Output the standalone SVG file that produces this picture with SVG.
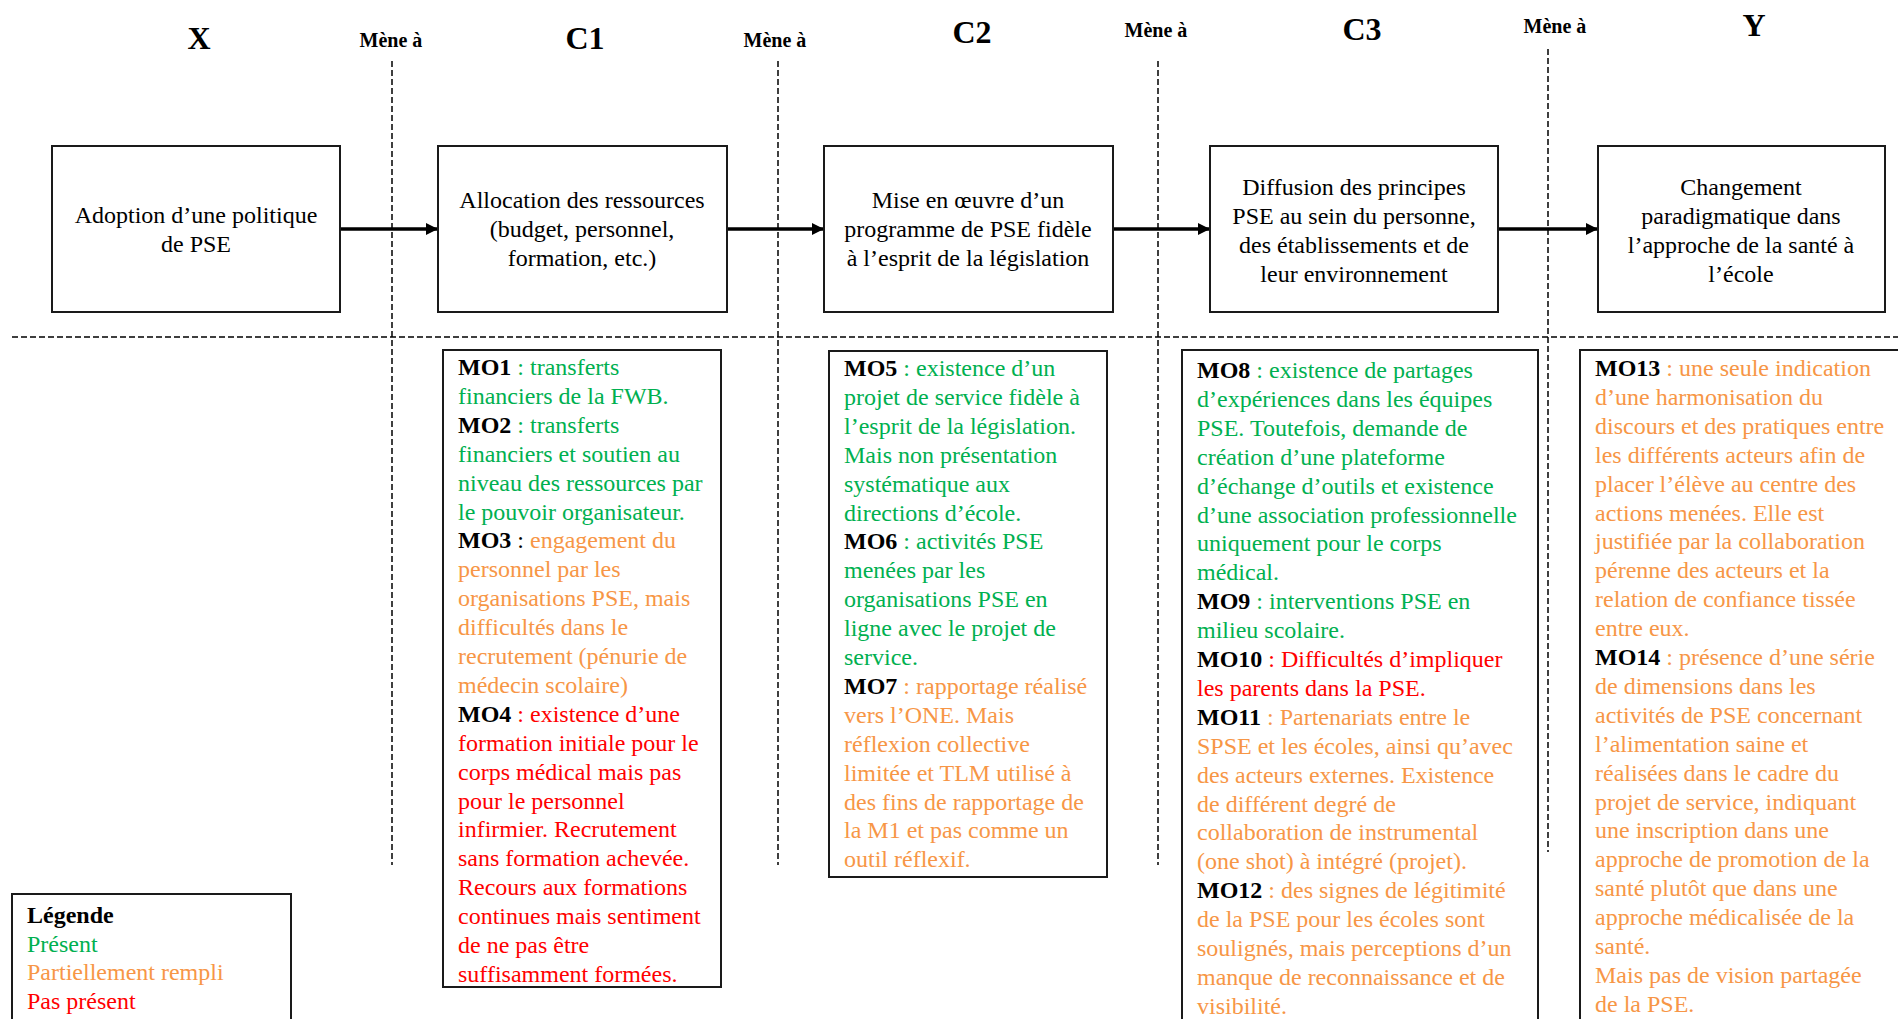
<svg xmlns="http://www.w3.org/2000/svg" width="1898" height="1019" viewBox="0 0 1898 1019">
<style>
.bg{fill:#fff}
.box{fill:#fff;stroke:#1a1a1a;stroke-width:2}
.t{font-family:"Liberation Serif","Times New Roman",serif;font-size:24px;fill:#000}
.c{text-anchor:middle}
.h{font-family:"Liberation Serif","Times New Roman",serif;font-weight:bold;fill:#000;text-anchor:middle}
.hl{font-size:32px}
.hm{font-size:20px}
.b{font-weight:bold;fill:#000}
.g{fill:#00b050}
.o{fill:#f79646}
.r{fill:#ff0000}
.dash{stroke:#000;stroke-width:1.5;stroke-dasharray:6 3;fill:none}
.arr{stroke:#000;stroke-width:3.5;fill:none;marker-end:url(#ah)}
</style>
<defs>
<marker id="ah" markerUnits="userSpaceOnUse" markerWidth="12" markerHeight="12" refX="12" refY="6" orient="auto">
<path d="M0,0 L12,6 L0,12 z" fill="#000"/>
</marker>
</defs>
<rect class="bg" x="0" y="0" width="1898" height="1019"/>

<g id="headers">
<text class="h hl" x="199" y="49">X</text>
<text class="h hm" x="391" y="47">Mène à</text>
<text class="h hl" x="585" y="49">C1</text>
<text class="h hm" x="775" y="47">Mène à</text>
<text class="h hl" x="972" y="43">C2</text>
<text class="h hm" x="1156" y="37">Mène à</text>
<text class="h hl" x="1362" y="40">C3</text>
<text class="h hm" x="1555" y="33">Mène à</text>
<text class="h hl" x="1754" y="36">Y</text>
</g>

<g id="connectors">
<line class="dash" x1="392" y1="61" x2="392" y2="865"/>
<line class="dash" x1="778" y1="61" x2="778" y2="865"/>
<line class="dash" x1="1158" y1="61" x2="1158" y2="865"/>
<line class="dash" x1="1548" y1="49" x2="1548" y2="852"/>
<line class="dash" x1="12" y1="337" x2="1898" y2="337"/>
<line class="arr" x1="340" y1="229" x2="438" y2="229"/>
<line class="arr" x1="727" y1="229" x2="824" y2="229"/>
<line class="arr" x1="1113" y1="229" x2="1210" y2="229"/>
<line class="arr" x1="1498" y1="229" x2="1598" y2="229"/>
</g>

<g id="node-x">
<rect class="box" x="52" y="146" width="288" height="166"/>
<text class="t c" x="196" y="223">Adoption d’une politique</text>
<text class="t c" x="196" y="252">de PSE</text>
</g>
<g id="node-c1">
<rect class="box" x="438" y="146" width="289" height="166"/>
<text class="t c" x="582" y="208">Allocation des ressources</text>
<text class="t c" x="582" y="237">(budget, personnel,</text>
<text class="t c" x="582" y="266">formation, etc.)</text>
</g>
<g id="node-c2">
<rect class="box" x="824" y="146" width="289" height="166"/>
<text class="t c" x="968" y="208">Mise en œuvre d’un</text>
<text class="t c" x="968" y="237">programme de PSE fidèle</text>
<text class="t c" x="968" y="266">à l’esprit de la législation</text>
</g>
<g id="node-c3">
<rect class="box" x="1210" y="146" width="288" height="166"/>
<text class="t c" x="1354" y="195">Diffusion des principes</text>
<text class="t c" x="1354" y="224">PSE au sein du personne,</text>
<text class="t c" x="1354" y="253">des établissements et de</text>
<text class="t c" x="1354" y="282">leur environnement</text>
</g>
<g id="node-y">
<rect class="box" x="1598" y="146" width="287" height="166"/>
<text class="t c" x="1741" y="195">Changement</text>
<text class="t c" x="1741" y="224">paradigmatique dans</text>
<text class="t c" x="1741" y="253">l’approche de la santé à</text>
<text class="t c" x="1741" y="282">l’école</text>
</g>

<g id="mo-c1">
<rect class="box" x="443" y="350" width="278" height="637"/>
<text class="t" x="458" y="375"><tspan class="b">MO1</tspan><tspan class="g"> : transferts</tspan></text>
<text class="t g" x="458" y="403.9">financiers de la FWB.</text>
<text class="t" x="458" y="432.8"><tspan class="b">MO2</tspan><tspan class="g"> : transferts</tspan></text>
<text class="t g" x="458" y="461.7">financiers et soutien au</text>
<text class="t g" x="458" y="490.6">niveau des ressources par</text>
<text class="t g" x="458" y="519.5">le pouvoir organisateur.</text>
<text class="t" x="458" y="548.4"><tspan class="b">MO3</tspan> : <tspan class="o">engagement du</tspan></text>
<text class="t o" x="458" y="577.3">personnel par les</text>
<text class="t o" x="458" y="606.2">organisations PSE, mais</text>
<text class="t o" x="458" y="635.1">difficultés dans le</text>
<text class="t o" x="458" y="664">recrutement (pénurie de</text>
<text class="t o" x="458" y="692.9">médecin scolaire)</text>
<text class="t" x="458" y="721.8"><tspan class="b">MO4</tspan><tspan class="r"> : existence d’une</tspan></text>
<text class="t r" x="458" y="750.7">formation initiale pour le</text>
<text class="t r" x="458" y="779.6">corps médical mais pas</text>
<text class="t r" x="458" y="808.5">pour le personnel</text>
<text class="t r" x="458" y="837.4">infirmier. Recrutement</text>
<text class="t r" x="458" y="866.3">sans formation achevée.</text>
<text class="t r" x="458" y="895.2">Recours aux formations</text>
<text class="t r" x="458" y="924.1">continues mais sentiment</text>
<text class="t r" x="458" y="953">de ne pas être</text>
<text class="t r" x="458" y="981.9">suffisamment formées.</text>
</g>

<g id="mo-c2">
<rect class="box" x="829" y="351" width="278" height="526"/>
<text class="t" x="844" y="376"><tspan class="b">MO5 </tspan><tspan class="g">: existence d’un</tspan></text>
<text class="t g" x="844" y="404.9">projet de service fidèle à</text>
<text class="t g" x="844" y="433.8">l’esprit de la législation.</text>
<text class="t g" x="844" y="462.7">Mais non présentation</text>
<text class="t g" x="844" y="491.6">systématique aux</text>
<text class="t g" x="844" y="520.5">directions d’école.</text>
<text class="t" x="844" y="549.4"><tspan class="b">MO6</tspan><tspan class="g"> : activités PSE</tspan></text>
<text class="t g" x="844" y="578.3">menées par les</text>
<text class="t g" x="844" y="607.2">organisations PSE en</text>
<text class="t g" x="844" y="636.1">ligne avec le projet de</text>
<text class="t g" x="844" y="665">service.</text>
<text class="t" x="844" y="693.9"><tspan class="b">MO7</tspan><tspan class="o"> : rapportage réalisé</tspan></text>
<text class="t o" x="844" y="722.8">vers l’ONE. Mais</text>
<text class="t o" x="844" y="751.7">réflexion collective</text>
<text class="t o" x="844" y="780.6">limitée et TLM utilisé à</text>
<text class="t o" x="844" y="809.5">des fins de rapportage de</text>
<text class="t o" x="844" y="838.4">la M1 et pas comme un</text>
<text class="t o" x="844" y="867.3">outil réflexif.</text>
</g>

<g id="mo-c3">
<rect class="box" x="1182" y="350" width="356" height="690"/>
<text class="t" x="1197" y="378"><tspan class="b">MO8</tspan><tspan class="g"> : existence de partages</tspan></text>
<text class="t g" x="1197" y="406.9">d’expériences dans les équipes</text>
<text class="t g" x="1197" y="435.8">PSE. Toutefois, demande de</text>
<text class="t g" x="1197" y="464.7">création d’une plateforme</text>
<text class="t g" x="1197" y="493.6">d’échange d’outils et existence</text>
<text class="t g" x="1197" y="522.5">d’une association professionnelle</text>
<text class="t g" x="1197" y="551.4">uniquement pour le corps</text>
<text class="t g" x="1197" y="580.3">médical.</text>
<text class="t" x="1197" y="609.2"><tspan class="b">MO9</tspan><tspan class="g"> : interventions PSE en</tspan></text>
<text class="t g" x="1197" y="638.1">milieu scolaire.</text>
<text class="t" x="1197" y="667"><tspan class="b">MO10</tspan><tspan class="r"> : Difficultés d’impliquer</tspan></text>
<text class="t r" x="1197" y="695.9">les parents dans la PSE.</text>
<text class="t" x="1197" y="724.8"><tspan class="b">MO11</tspan><tspan class="o"> : Partenariats entre le</tspan></text>
<text class="t o" x="1197" y="753.7">SPSE et les écoles, ainsi qu’avec</text>
<text class="t o" x="1197" y="782.6">des acteurs externes. Existence</text>
<text class="t o" x="1197" y="811.5">de différent degré de</text>
<text class="t o" x="1197" y="840.4">collaboration de instrumental</text>
<text class="t o" x="1197" y="869.3">(one shot) à intégré (projet).</text>
<text class="t" x="1197" y="898.2"><tspan class="b">MO12</tspan><tspan class="o"> : des signes de légitimité</tspan></text>
<text class="t o" x="1197" y="927.1">de la PSE pour les écoles sont</text>
<text class="t o" x="1197" y="956">soulignés, mais perceptions d’un</text>
<text class="t o" x="1197" y="984.9">manque de reconnaissance et de</text>
<text class="t o" x="1197" y="1013.8">visibilité.</text>
</g>

<g id="mo-y">
<rect class="box" x="1580" y="350" width="330" height="690"/>
<text class="t" x="1595" y="376"><tspan class="b">MO13</tspan><tspan class="o"> : une seule indication</tspan></text>
<text class="t o" x="1595" y="404.9">d’une harmonisation du</text>
<text class="t o" x="1595" y="433.8">discours et des pratiques entre</text>
<text class="t o" x="1595" y="462.7">les différents acteurs afin de</text>
<text class="t o" x="1595" y="491.6">placer l’élève au centre des</text>
<text class="t o" x="1595" y="520.5">actions menées. Elle est</text>
<text class="t o" x="1595" y="549.4">justifiée par la collaboration</text>
<text class="t o" x="1595" y="578.3">pérenne des acteurs et la</text>
<text class="t o" x="1595" y="607.2">relation de confiance tissée</text>
<text class="t o" x="1595" y="636.1">entre eux.</text>
<text class="t" x="1595" y="665"><tspan class="b">MO14</tspan><tspan class="o"> : présence d’une série</tspan></text>
<text class="t o" x="1595" y="693.9">de dimensions dans les</text>
<text class="t o" x="1595" y="722.8">activités de PSE concernant</text>
<text class="t o" x="1595" y="751.7">l’alimentation saine et</text>
<text class="t o" x="1595" y="780.6">réalisées dans le cadre du</text>
<text class="t o" x="1595" y="809.5">projet de service, indiquant</text>
<text class="t o" x="1595" y="838.4">une inscription dans une</text>
<text class="t o" x="1595" y="867.3">approche de promotion de la</text>
<text class="t o" x="1595" y="896.2">santé plutôt que dans une</text>
<text class="t o" x="1595" y="925.1">approche médicalisée de la</text>
<text class="t o" x="1595" y="954">santé.</text>
<text class="t o" x="1595" y="982.9">Mais pas de vision partagée</text>
<text class="t o" x="1595" y="1011.8">de la PSE.</text>
</g>

<g id="legend">
<rect class="box" x="12" y="894" width="279" height="140"/>
<text class="t b" x="27" y="923">Légende</text>
<text class="t g" x="27" y="951.5">Présent</text>
<text class="t o" x="27" y="980">Partiellement rempli</text>
<text class="t r" x="27" y="1008.5">Pas présent</text>
</g>
</svg>
